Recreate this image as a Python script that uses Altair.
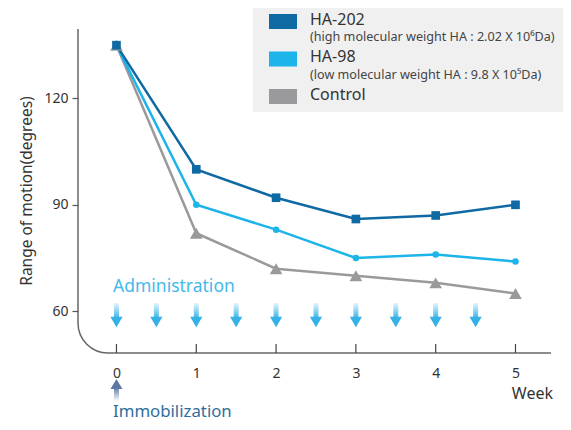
import altair as alt
import pandas as pd

# ---- data ----
weeks = [0, 1, 2, 3, 4, 5]
ha202 = [135, 100, 92, 86, 87, 90]
ha98 = [135, 90, 83, 75, 76, 74]
control = [135, 82, 72, 70, 68, 65]
series_names = ["HA-202", "HA-98", "Control"]
series_notes = ["(high molecular weight HA : 2.02 X 10⁶Da)",
                "(low molecular weight HA : 9.8 X 10⁵Da)", ""]
series_colors = ["#0f69a3", "#1db4ea", "#9a9a9c"]
series_shapes = ["square", "circle", "triangle-up"]
series_sizes = [75, 42, 160]
admin_weeks = [0, 0.5, 1, 1.5, 2, 2.5, 3, 3.5, 4, 4.5]
immob_weeks = [0]
y_ticks = [60, 90, 120]
y_title = "Range of motion(degrees)"
x_title = "Week"
admin_label = "Administration"
immob_label = "Immobilization"

FONT = "Noto Sans"
W, H = 473, 324
x_scale = alt.Scale(domain=[-0.482, 5.445], nice=False, zero=False, padding=0)
y_scale = alt.Scale(domain=[48.23, 139.56], nice=False, zero=False, padding=0)

values = {"HA-202": ha202, "HA-98": ha98, "Control": control}
rows = []
for name in ["Control", "HA-98", "HA-202"]:
    for w, v in zip(weeks, values[name]):
        rows.append({"series": name, "week": w, "value": v})
df = pd.DataFrame(rows)

color = alt.Color("series:N", scale=alt.Scale(domain=series_names, range=series_colors), legend=None)

x_enc = alt.X("week:Q", scale=x_scale,
              axis=alt.Axis(values=weeks, ticks=False, domain=False, grid=False, title="",
                            labelPadding=13, labelFontSize=14, labelColor="#333",
                            labelFont=FONT, format="d"))
y_enc = alt.Y("value:Q", scale=y_scale,
              axis=alt.Axis(values=y_ticks, tickSize=6, tickColor="#555", tickWidth=1.2,
                            domain=False, grid=False, title="", labelPadding=4,
                            labelFontSize=14, labelColor="#333", labelFont=FONT))

lines = alt.Chart(df).mark_line(strokeWidth=2.5).encode(x=x_enc, y=y_enc, color=color)

point_layers = []
for name, col, shp, sz in reversed(list(zip(series_names, series_colors, series_shapes, series_sizes))):
    point_layers.append(
        alt.Chart(df).transform_filter(alt.datum.series == name).mark_point(
            filled=True, opacity=1, shape=shp, size=sz, color=col).encode(
            x=alt.X("week:Q", scale=x_scale), y=alt.Y("value:Q", scale=y_scale)))

one = pd.DataFrame({"k": [0]})
AXC = "#666666"
y_line = alt.Chart(one).mark_rule(color=AXC, strokeWidth=1.5).encode(
    x=alt.value(0), y=alt.value(0), y2=alt.value(H - 30))
x_line = alt.Chart(one).mark_rule(color=AXC, strokeWidth=1.5).encode(
    x=alt.value(30), x2=alt.value(W), y=alt.value(H))
corner = alt.Chart(one).mark_arc(filled=False, color=AXC, strokeWidth=1.5,
                                 theta=3.14159, theta2=4.71239, radius=30, radius2=30).encode(
    x=alt.value(30), y=alt.value(H - 30))

tick_df = pd.DataFrame({"week": weeks})
x_ticks = alt.Chart(tick_df).mark_rule(color="#444", strokeWidth=1.2).encode(
    x=alt.X("week:Q", scale=x_scale), y=alt.value(H - 9), y2=alt.value(H))

# administration arrows
admin_df = pd.DataFrame({"week": admin_weeks})
blue_grad = alt.Gradient(gradient="linear", x1=0, x2=0, y1=0, y2=1,
                         stops=[alt.GradientStop(color="#e6f6fd", offset=0),
                                alt.GradientStop(color="#3db5e7", offset=1)])
admin_shaft = alt.Chart(admin_df).mark_bar(size=5, color=blue_grad).encode(
    x=alt.X("week:Q", scale=x_scale), y=alt.value(274), y2=alt.value(289))
admin_head = alt.Chart(admin_df).mark_point(
    shape="M-1,-0.85L1,-0.85L0,0.85Z", filled=True, size=150, color="#36b1e6", opacity=1).encode(
    x=alt.X("week:Q", scale=x_scale), y=alt.value(293))

# immobilization arrow
immob_df = pd.DataFrame({"week": immob_weeks})
gray_grad = alt.Gradient(gradient="linear", x1=0, x2=0, y1=0, y2=1,
                         stops=[alt.GradientStop(color="#7088b3", offset=0),
                                alt.GradientStop(color="#ffffff", offset=1)])
immob_shaft = alt.Chart(immob_df).mark_bar(size=5, color=gray_grad).encode(
    x=alt.X("week:Q", scale=x_scale), y=alt.value(360), y2=alt.value(372))
immob_head = alt.Chart(immob_df).mark_point(
    shape="M-1,0.85L1,0.85L0,-0.85Z", filled=True, size=144, color="#5d76a6", opacity=1).encode(
    x=alt.X("week:Q", scale=x_scale), y=alt.value(355))

def label(text, x, y, size, col, align="left", angle=0):
    return alt.Chart(pd.DataFrame({"t": [text]})).mark_text(
        align=align, baseline="middle", fontSize=size, color=col, font=FONT, angle=angle).encode(
        text="t:N", x=alt.value(x), y=alt.value(y))

admin_txt = label(admin_label, 35, 258, 17.5, "#45b9ea")
immob_txt = label(immob_label, 35, 383, 16.8, "#2f6e9c")
week_txt = label(x_title, 475, 365, 16, "#333", align="right")
ytitle_txt = label(y_title, -51, 162, 15.5, "#333", align="center", angle=270)

# legend
leg = pd.DataFrame({"name": series_names, "note": series_notes, "col": series_colors})
leg["i"] = range(len(leg))
leg["sy"] = -15 + 37.5 * leg["i"]
leg["sy2"] = leg["sy"] + 15
leg["ty"] = -9.5 + 37.5 * leg["i"]
leg["ny"] = leg["ty"] + 17.5
leg_bg = alt.Chart(one).mark_rect(color="#f0f0f1").encode(
    x=alt.value(175), x2=alt.value(486), y=alt.value(-21), y2=alt.value(83))
leg_sw = alt.Chart(leg).mark_rect().encode(
    x=alt.value(191), x2=alt.value(219),
    y=alt.Y("sy:Q", scale=None), y2="sy2:Q",
    color=alt.Color("col:N", scale=None))
leg_title = alt.Chart(leg).mark_text(align="left", baseline="middle", fontSize=16,
                                     color="#333", font=FONT).encode(
    x=alt.value(232), y=alt.Y("ty:Q", scale=None), text="name:N")
leg_note = alt.Chart(leg).mark_text(align="left", baseline="middle", fontSize=12.6,
                                    color="#444", font=FONT).encode(
    x=alt.value(232), y=alt.Y("ny:Q", scale=None), text="note:N")

chart = alt.layer(
    leg_bg, leg_sw, leg_title, leg_note,
    y_line, x_line, corner, x_ticks,
    admin_shaft, admin_head, immob_shaft, immob_head,
    admin_txt, immob_txt, week_txt, ytitle_txt,
    lines, *point_layers,
).properties(
    width=W, height=H,
    padding={"left": 70, "top": 21, "right": 12, "bottom": 69},
    autosize=alt.AutoSizeParams(type="none"),
).configure_view(strokeWidth=0)

chart.save("out.html", embed_options={"renderer": "svg", "actions": False})
